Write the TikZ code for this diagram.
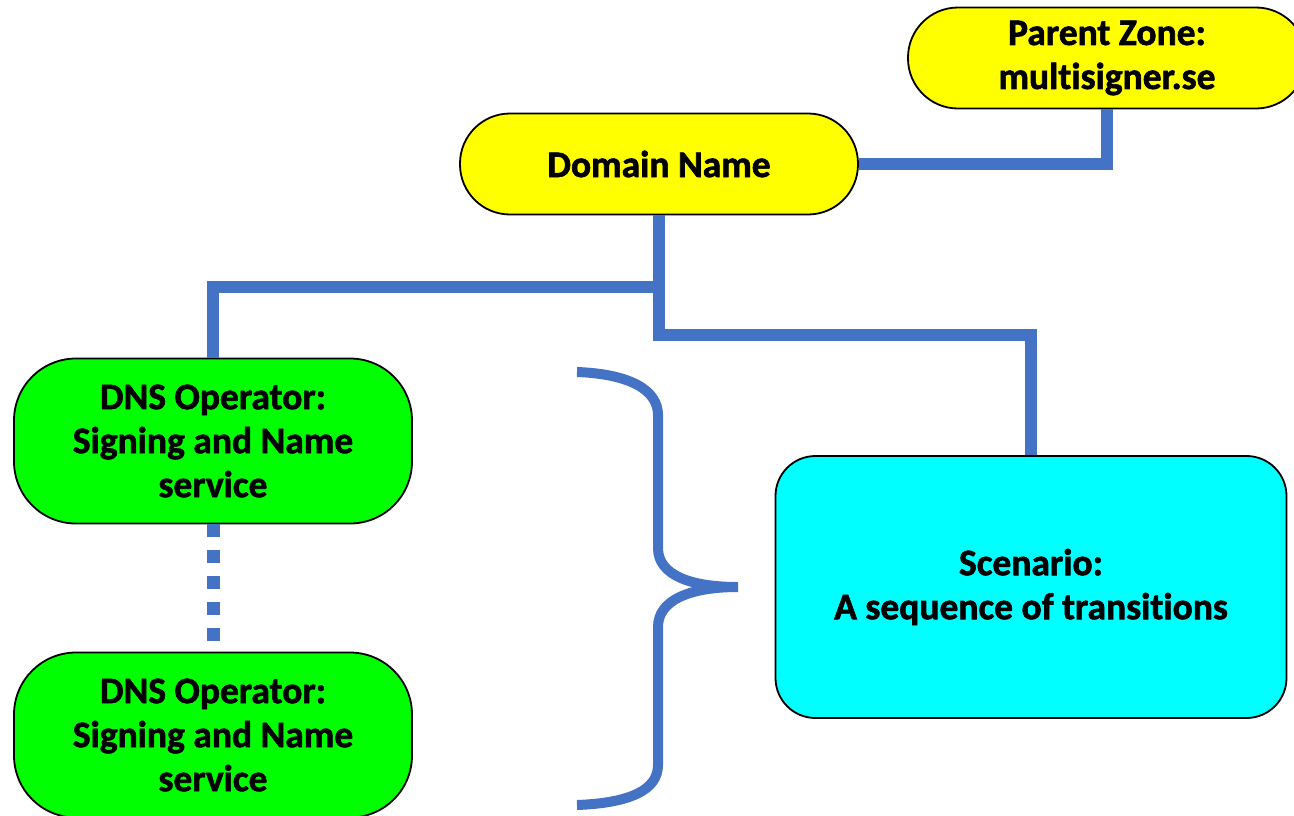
\documentclass[tikz,border=0pt]{standalone}
\usepackage{fontspec}
\setmainfont{Carlito}[Ligatures=NoCommon,BoldFeatures={FakeBold=1.6}]
\definecolor{conblue}{HTML}{4472C4}
\definecolor{ylw}{HTML}{FFFF00}
\definecolor{grn}{HTML}{00FF00}
\definecolor{cyn}{HTML}{00FFFF}
\begin{document}
\begin{tikzpicture}[x=1pt,y=-1pt,
  box/.style={draw=black,line width=1.8pt,align=center,inner sep=0pt,
    font=\fontsize{37.5}{44}\selectfont\bfseries},
  con/.style={draw=conblue,line width=12pt},
]
\clip (0,0) rectangle (1294,815);
\node[box,fill=ylw,rounded corners=50pt,minimum width=398pt,minimum height=101pt] (pz) at (1107,58) {Parent Zone:\\multisigner.se};
\node[box,fill=ylw,rounded corners=50pt,minimum width=398pt,minimum height=101pt] (dom) at (659,164) {Domain Name};
\node[box,fill=grn,rounded corners=62pt,minimum width=398pt,minimum height=165pt] (op1) at (213,441) {DNS Operator:\\Signing and Name\\service};
\node[box,fill=grn,rounded corners=62pt,minimum width=398pt,minimum height=165pt] (op2) at (213,735) {DNS Operator:\\Signing and Name\\service};
\node[box,fill=cyn,rounded corners=40pt,minimum width=511pt,minimum height=262pt] (sc) at (1031,587) {Scenario:\\A sequence of transitions};
\draw[con] (dom.east) -| (pz.south);
\draw[con] (dom.south) -- (dom.south |- 0,335) -| (sc.north);
\draw[con] (dom.south |- 0,287) -| (op1.north);
\draw[draw=conblue,line width=13pt,dash pattern=on 13pt off 13pt] (op1.south) -- (op2.north);
\coordinate (tip) at (738,587);
\draw[draw=conblue,line width=10pt]
  (577,372) .. controls (630,374) and (658,390) .. (658,415) -- (658,548)
  .. controls (658,575) and (690,587) .. (tip)
  .. controls (690,587) and (658,600) .. (658,627) -- (658,765)
  .. controls (658,790) and (630,803) .. (577,805);
\end{tikzpicture}
\end{document}
